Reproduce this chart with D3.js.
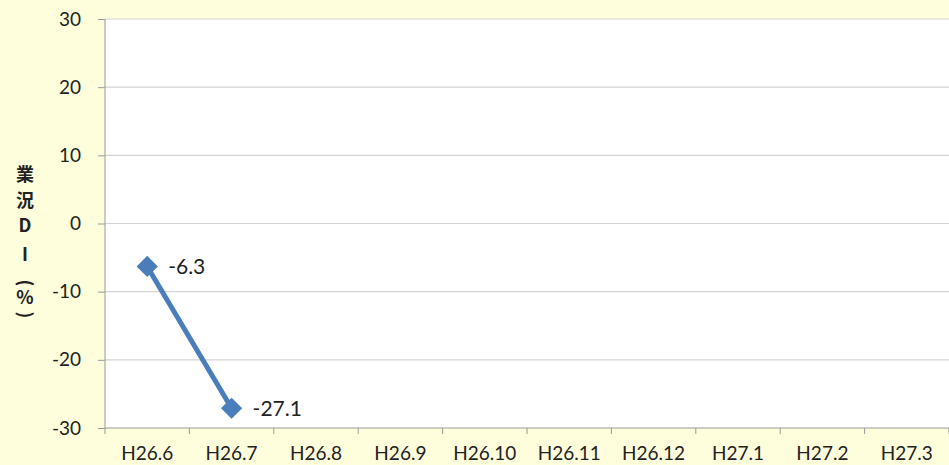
<!DOCTYPE html>
<html>
<head>
<meta charset="utf-8">
<script src="https://cdn.jsdelivr.net/npm/d3@7"></script>
<style>
  body { margin: 0; background: #fefedc; }
  svg { display: block; font-family: Lato, "Open Sans", sans-serif; }
</style>
</head>
<body>
<div id="vis"></div>
<script>
const FRAME_WIDTH = 949;
const FRAME_HEIGHT = 465;
const MARGINS = { top: 19, bottom: 37, left: 105, right: 0 };
const VIS_WIDTH = FRAME_WIDTH - MARGINS.left - MARGINS.right;
const VIS_HEIGHT = FRAME_HEIGHT - MARGINS.top - MARGINS.bottom;

const MONTHS = ["H26.6", "H26.7", "H26.8", "H26.9", "H26.10", "H26.11", "H26.12", "H27.1", "H27.2", "H27.3"];
const DI_VALUES = [-6.3, -27.1];
const Y_TICKS = [-30, -20, -10, 0, 10, 20, 30];
const AXIS_TITLE = ["業", "況", "D", "I", "(", "%", ")"];

const FRAME = d3
  .select("#vis")
  .append("svg")
  .attr("width", FRAME_WIDTH)
  .attr("height", FRAME_HEIGHT);

FRAME.append("rect")
  .attr("width", FRAME_WIDTH)
  .attr("height", FRAME_HEIGHT)
  .attr("fill", "#fefedc");

const X_SCALE = d3.scaleBand().domain(MONTHS).range([0, VIS_WIDTH]);
const Y_SCALE = d3.scaleLinear().domain([-30, 30]).range([VIS_HEIGHT, 0]);

const PLOT = FRAME.append("g")
  .attr("transform", `translate(${MARGINS.left}, ${MARGINS.top})`);

PLOT.append("rect")
  .attr("width", VIS_WIDTH)
  .attr("height", VIS_HEIGHT)
  .attr("fill", "#ffffff");

// gridlines
PLOT.selectAll(".grid")
  .data(Y_TICKS.filter((t) => t !== -30))
  .enter()
  .append("line")
  .attr("x1", 0)
  .attr("x2", VIS_WIDTH)
  .attr("y1", (d) => Y_SCALE(d))
  .attr("y2", (d) => Y_SCALE(d))
  .attr("stroke", "#d4d4d4")
  .attr("stroke-width", 1.2);

// y axis
const yAxis = PLOT.append("g")
  .call(
    d3.axisLeft(Y_SCALE)
      .tickValues(Y_TICKS)
      .tickFormat((d) => String(d))
      .tickSize(7)
      .tickPadding(17)
  )
  .attr("font-size", 19)
  .attr("font-family", "Lato, Open Sans, sans-serif");
yAxis.selectAll("line").attr("stroke", "#9a9a9a");
yAxis.select(".domain").attr("stroke", "#9a9a9a").attr("d", `M0,0V${VIS_HEIGHT}`);
yAxis.selectAll("text").attr("fill", "#222");

// x axis
const xTicks = MONTHS.map((m) => X_SCALE(m)).concat([VIS_WIDTH]);
const xAxisG = PLOT.append("g").attr("transform", `translate(0, ${VIS_HEIGHT})`);
xAxisG.append("line")
  .attr("x1", 0).attr("x2", VIS_WIDTH)
  .attr("stroke", "#9a9a9a").attr("stroke-width", 1.2);
xAxisG.selectAll(".xtick")
  .data(xTicks)
  .enter()
  .append("line")
  .attr("x1", (d) => d).attr("x2", (d) => d)
  .attr("y1", 0).attr("y2", 6)
  .attr("stroke", "#9a9a9a");
xAxisG.selectAll(".xlabel")
  .data(MONTHS)
  .enter()
  .append("text")
  .attr("x", (d) => X_SCALE(d) + X_SCALE.bandwidth() / 2)
  .attr("y", 32)
  .attr("text-anchor", "middle")
  .attr("font-size", 19)
  .attr("fill", "#222")
  .text((d) => d);

// line series
const points = DI_VALUES.map((v, i) => ({ m: MONTHS[i], v: v }));
const cx = (d) => X_SCALE(d.m) + X_SCALE.bandwidth() / 2;

PLOT.append("path")
  .datum(points)
  .attr("fill", "none")
  .attr("stroke", "#4a7ebb")
  .attr("stroke-width", 5)
  .attr("d", d3.line().x(cx).y((d) => Y_SCALE(d.v)));

PLOT.selectAll(".marker")
  .data(points)
  .enter()
  .append("path")
  .attr("transform", (d) => `translate(${cx(d)}, ${Y_SCALE(d.v)}) rotate(45)`)
  .attr("d", "M-7.5,-7.5H7.5V7.5H-7.5Z")
  .attr("fill", "#4a7ebb");

PLOT.selectAll(".label")
  .data(points)
  .enter()
  .append("text")
  .attr("x", (d) => cx(d) + 21)
  .attr("y", (d) => Y_SCALE(d.v))
  .attr("dy", "0.36em")
  .attr("font-size", 21)
  .attr("fill", "#222")
  .text((d) => d.v.toFixed(1));

// vertical axis title, one glyph per line, brackets turned sideways
const titleSteps = [0, 26, 25, 29, 28, 15, 17];
let titleY = 175;
const titleG = FRAME.append("g");
AXIS_TITLE.forEach((ch, i) => {
  titleY += titleSteps[i];
  const isBracket = ch === "(" || ch === ")";
  titleG.append("text")
    .attr("transform", `translate(25, ${titleY})` + (isBracket ? " rotate(90)" : ""))
    .attr("dy", "0.36em")
    .attr("text-anchor", "middle")
    .attr("font-size", 18)
    .attr("font-weight", "bold")
    .attr("font-family", "Noto Sans CJK JP, sans-serif")
    .attr("fill", "#222")
    .text(ch);
});
</script>
</body>
</html>
